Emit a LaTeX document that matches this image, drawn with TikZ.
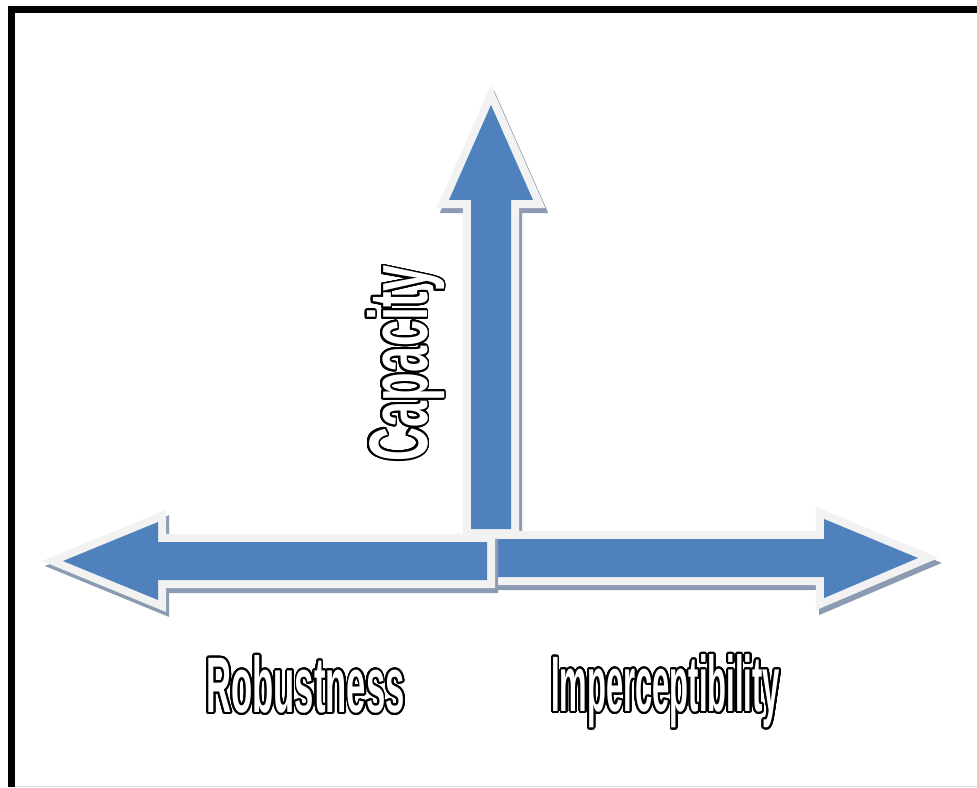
\documentclass[tikz,border=0pt]{standalone}
\usepackage{fontspec}
\usepackage[copies]{contour}
\newfontfamily\labelfont{Liberation Sans}
\definecolor{axisblue}{RGB}{79,129,189}
\definecolor{rimgrey}{RGB}{242,242,242}
\definecolor{shadowgrey}{RGB}{140,155,178}
\contourlength{1.3pt}
\contournumber{32}
% white letters with a black outline, squeezed sideways
\newcommand{\outlinetext}[2]{\contour{black}{\scalebox{#1}[1]{\textcolor{white}{#2}}}}

\begin{document}
\begin{tikzpicture}[x=0.025cm,y=-0.025cm]

\tikzset{arrowshadow/.style={draw=shadowgrey,fill=shadowgrey,line width=11.4pt,line join=miter},
arrowrim/.style={draw=rimgrey,line width=11.4pt,line join=miter},
arrowbody/.style={fill=axisblue},
axislabel/.style={inner sep=0pt,anchor=base}}

\useasboundingbox (0,0) rectangle (977,787);

% Frame
\draw[line width=5pt] (11.5,787) -- (11.5,9.5) -- (977,9.5);
\draw[black!12,line width=0.7pt] (15,786) -- (977,786);

% Vertical arrow (shadow, rim, body)
\foreach \layer/\off in {arrowshadow/{(3,5)}, arrowrim/{(0,0)}, arrowbody/{(0,0)}}
  \path[\layer,shift={\off}] (471,529) -- (471,200) -- (449,200) -- (491,105) -- (533,200) -- (511,200) -- (511,529) -- cycle;

% Right arrow
\foreach \layer/\off in {arrowshadow/{(3,5)}, arrowrim/{(0,0)}, arrowbody/{(0,0)}}
  \path[\layer,shift={\off}] (496,539) -- (824,539) -- (824,519) -- (918,558) -- (824,598) -- (824,577) -- (496,577) -- cycle;

% Left arrow
\foreach \layer/\off in {arrowshadow/{(3,5)}, arrowrim/{(0,0)}, arrowbody/{(0,0)}}
  \path[\layer,shift={\off}] (487,542) -- (158,542) -- (158,522) -- (63,561) -- (158,600) -- (158,580) -- (487,580) -- cycle;

% Axis titles
\node[axislabel,font=\labelfont\bfseries\fontsize{59pt}{62pt}\selectfont,rotate=90] (capacity) at (427,363.5) {\outlinetext{0.565}{Capacity}};
\node[axislabel,font=\labelfont\bfseries\fontsize{56pt}{60pt}\selectfont] (robustness) at (305.5,712.5) {\outlinetext{0.44}{Robustness}};
\node[axislabel,font=\labelfont\bfseries\fontsize{56pt}{60pt}\selectfont] (imperceptibility) at (665.5,711.5) {\outlinetext{0.393}{Imperceptibility}};

\end{tikzpicture}
\end{document}
